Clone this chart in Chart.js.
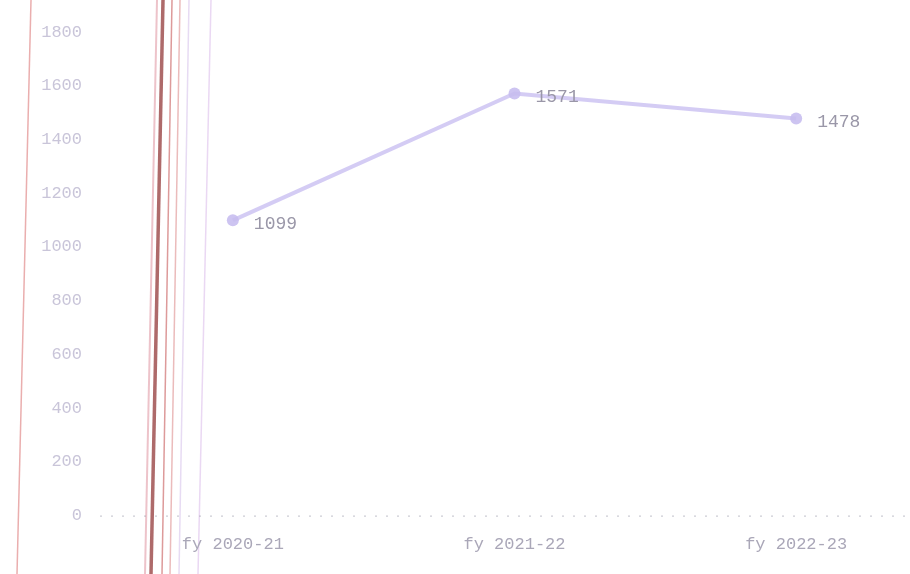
<!DOCTYPE html>
<html>
<head>
<meta charset="utf-8">
<script src="https://cdn.jsdelivr.net/npm/chart.js@4"></script>
<style>
  html, body { margin: 0; padding: 0; background: #fff; overflow: hidden; }
  #wrap { width: 950px; height: 574px; position: relative; }
</style>
</head>
<body>
<div id="wrap"><canvas id="c"></canvas></div>
<script>
// Fiscal years and yearly totals
const categories = ['fy 2020-21', 'fy 2021-22', 'fy 2022-23'];
const totals = [1099, 1571, 1478];
const yTicks = [0, 200, 400, 600, 800, 1000, 1200, 1400, 1600, 1800];

// Margin rules of the sheet behind the chart
const sheetRules = [
  { x0: 31, x1: 17, color: 'rgba(225,140,140,0.7)', w: 1.5 },
  { x0: 157, x1: 145, color: 'rgba(230,170,180,0.7)', w: 2 },
  { x0: 163, x1: 151, color: 'rgba(160,80,80,0.85)', w: 3.5 },
  { x0: 172, x1: 162, color: 'rgba(210,120,120,0.75)', w: 1.5 },
  { x0: 180, x1: 170, color: 'rgba(225,150,150,0.65)', w: 1.5 },
  { x0: 189, x1: 179, color: 'rgba(215,195,235,0.6)', w: 1.5 },
  { x0: 211, x1: 198, color: 'rgba(220,190,235,0.6)', w: 1.5 }
];

const rulesPlugin = {
  id: 'sheetRules',
  beforeDraw(chart) {
    const ctx = chart.ctx;
    ctx.save();
    sheetRules.forEach(r => {
      ctx.strokeStyle = r.color;
      ctx.lineWidth = r.w;
      ctx.beginPath();
      ctx.moveTo(r.x0, 0);
      ctx.lineTo(r.x1, chart.height);
      ctx.stroke();
    });
    // dotted baseline along the zero value
    const y0 = chart.scales.y.getPixelForValue(0);
    ctx.strokeStyle = 'rgba(150,150,165,0.6)';
    ctx.lineWidth = 1;
    ctx.setLineDash([2, 9]);
    ctx.beginPath();
    ctx.moveTo(chart.chartArea.left + 8, y0 + 0.5);
    ctx.lineTo(chart.chartArea.right, y0 + 0.5);
    ctx.stroke();
    ctx.restore();
  }
};

// Value written to the right of each point
const valueLabels = {
  id: 'valueLabels',
  afterDatasetsDraw(chart) {
    const ctx = chart.ctx;
    const meta = chart.getDatasetMeta(0);
    ctx.save();
    ctx.font = '18px "Liberation Mono", monospace';
    ctx.fillStyle = '#9a97a8';
    ctx.textAlign = 'left';
    ctx.textBaseline = 'middle';
    meta.data.forEach((pt, i) => {
      ctx.fillText(String(chart.data.datasets[0].data[i]), pt.x + 21, pt.y + 4);
    });
    ctx.restore();
  }
};

new Chart(document.getElementById('c'), {
  type: 'line',
  data: {
    labels: categories,
    datasets: [{
      data: totals,
      borderColor: 'rgba(205,195,242,0.85)',
      backgroundColor: 'rgba(200,190,240,0.9)',
      borderWidth: 4,
      pointRadius: 6,
      pointBorderWidth: 0,
      tension: 0
    }]
  },
  options: {
    responsive: true,
    maintainAspectRatio: false,
    animation: false,
    layout: { padding: { top: 32, right: 13, bottom: 0, left: 0 } },
    plugins: { legend: { display: false }, tooltip: { enabled: false } },
    scales: {
      x: {
        offset: true,
        grid: { display: false, drawTicks: false },
        border: { display: false },
        ticks: {
          padding: 19,
          color: '#aaa7b8',
          font: { family: '"Liberation Mono", monospace', size: 17 }
        }
      },
      y: {
        min: 0,
        max: 1800,
        afterBuildTicks(scale) { scale.ticks = yTicks.map(v => ({ value: v })); },
        afterFit(scale) { scale.width = 92; },
        grid: { display: false, drawTicks: false },
        border: { display: false },
        ticks: {
          padding: 10,
          color: '#c9c5d9',
          font: { family: '"Liberation Mono", monospace', size: 17 },
          callback: v => String(v)
        }
      }
    }
  },
  plugins: [rulesPlugin, valueLabels]
});
</script>
</body>
</html>
